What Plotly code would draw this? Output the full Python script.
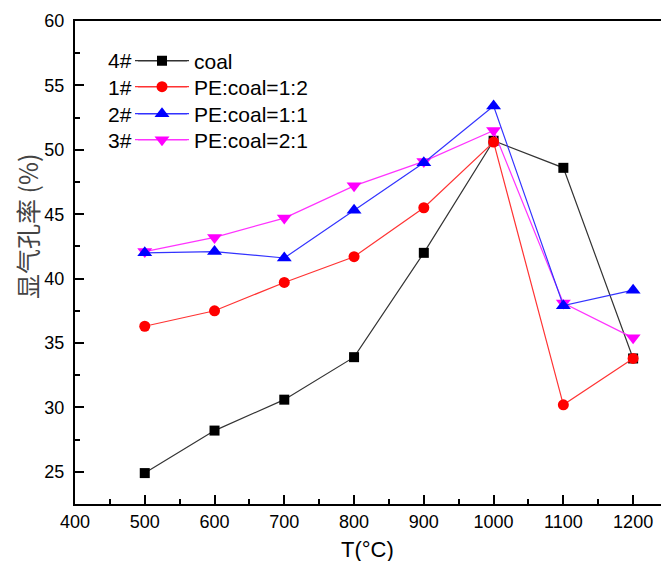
import plotly.graph_objects as go

T = [500, 600, 700, 800, 900, 1000, 1100, 1200]
coal = [24.9, 28.2, 30.6, 33.9, 42.0, 50.7, 48.6, 33.8]
pe12 = [36.3, 37.5, 39.7, 41.7, 45.5, 50.6, 30.2, 33.8]
pe11 = [42.0, 42.1, 41.6, 45.3, 49.0, 53.4, 37.9, 39.1]
pe21 = [42.1, 43.2, 44.7, 47.2, 49.1, 51.5, 38.1, 35.4]
names = ["coal", "PE:coal=1:2", "PE:coal=1:1", "PE:coal=2:1"]
tags = ["4#", "1#", "2#", "3#"]
line_colors = ["#333333", "#ff3333", "#3333ff", "#ff33ff"]

# page body has an 8px margin; work in reference pixel coords and shift
OFF = 8
W, H = 669 - OFF, 561 - OFF
L, R, TOP, BOT = 75, 668, 21, 504  # plot area in reference pixels

def px(x):
    return (x - L) / (R - L)

def py(y):
    return 1 - (y - TOP) / (BOT - TOP)

rows = [61, 87, 114, 140]

fig = go.Figure()
fig.add_trace(go.Scatter(x=T, y=coal, name=names[0], mode="lines+markers", legend="legend",
                         line=dict(color=line_colors[0], width=1.2),
                         marker=dict(symbol="square", size=10, color="black")))
fig.add_trace(go.Scatter(x=T, y=pe21, name=names[3], mode="lines+markers", legend="legend4",
                         line=dict(color=line_colors[3], width=1.2),
                         marker=dict(symbol="triangle-down", size=13, color="#ff00ff")))
fig.add_trace(go.Scatter(x=T, y=pe11, name=names[2], mode="lines+markers", legend="legend3",
                         line=dict(color=line_colors[2], width=1.2),
                         marker=dict(symbol="triangle-up", size=13, color="#0000ff")))
fig.add_trace(go.Scatter(x=T, y=pe12, name=names[1], mode="lines+markers", legend="legend2",
                         line=dict(color=line_colors[1], width=1.2),
                         marker=dict(symbol="circle", size=11, color="#ff0000")))

for tag, r, c in zip(tags, rows, line_colors):
    fig.add_annotation(text=tag, xref="paper", yref="paper", x=px(134), y=py(r),
                       xanchor="right", yanchor="middle", showarrow=False,
                       font=dict(size=21, color="black", family="Liberation Sans"))
    fig.add_shape(type="line", xref="paper", yref="paper", x0=px(138), x1=px(187),
                  y0=py(r), y1=py(r), line=dict(color=c, width=1.2), opacity=0.7)

fig.add_annotation(text="显气孔率 (%)", xref="paper", yref="paper", x=px(27), y=py(226),
                   xanchor="center", yanchor="middle", textangle=-90, showarrow=False,
                   font=dict(size=25, color="#444444", family="Noto Sans CJK SC"))
fig.add_annotation(text="T(°C)", xref="paper", yref="paper", x=px(367), y=py(549),
                   xanchor="center", yanchor="middle", showarrow=False,
                   font=dict(size=22, color="black", family="Liberation Sans"))

legend_common = dict(xanchor="left", yanchor="middle", bgcolor="rgba(0,0,0,0)",
                     font=dict(size=21), itemwidth=54)
legends = {}
keys = ["legend", "legend2", "legend3", "legend4"]
for k, r in zip(keys, rows):
    legends[k] = dict(x=px(130), y=py(r), **legend_common)

fig.update_layout(
    width=W, height=H,
    margin=dict(l=L - OFF, r=W - (R - OFF), t=TOP - OFF, b=H - (BOT - OFF)),
    paper_bgcolor="white", plot_bgcolor="white",
    font=dict(family="Liberation Sans", color="black", size=18),
    showlegend=True,
    **legends,
    xaxis=dict(range=[400, 1250], tickmode="array", tickvals=[400, 500, 600, 700, 800, 900, 1000, 1100, 1200],
               ticks="inside", ticklen=9, tickwidth=2, tickcolor="black",
               minor=dict(dtick=50, ticks="inside", ticklen=5, tickwidth=2, tickcolor="black"),
               showline=True, linecolor="black", linewidth=2, mirror=True,
               showgrid=False, zeroline=False, automargin=False,
               tickfont=dict(size=18)),
    yaxis=dict(range=[22.5, 60], tickvals=[25, 30, 35, 40, 45, 50, 55, 60],
               ticks="inside", ticklen=9, tickwidth=2, tickcolor="black",
               minor=dict(dtick=2.5, ticks="inside", ticklen=5, tickwidth=2, tickcolor="black"),
               showline=True, linecolor="black", linewidth=2, mirror=False,
               showgrid=False, zeroline=False, ticklabelstandoff=5, automargin=False,
               tickfont=dict(size=18)),
)

fig.write_html("out.html")
